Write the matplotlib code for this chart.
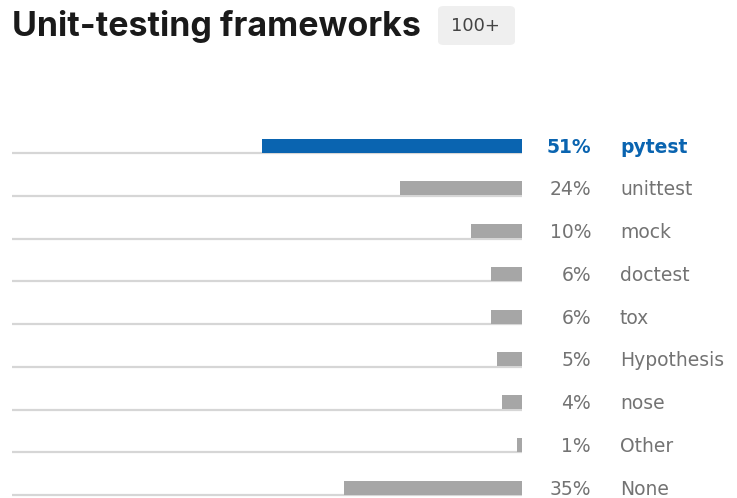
import matplotlib
matplotlib.use("Agg")
import matplotlib.pyplot as plt
from matplotlib.transforms import blended_transform_factory
from matplotlib.patches import FancyBboxPatch

categories = ["pytest", "unittest", "mock", "doctest", "tox", "Hypothesis", "nose", "Other", "None"]
values = [51, 24, 10, 6, 6, 5, 4, 1, 35]
title = "Unit-testing frameworks"
badge = "100+"

BLUE = "#0a64b0"
GRAY_BAR = "#a6a6a6"
LINE = "#d6d6d6"
TXT = "#737373"

W, H = 737, 498
fig = plt.figure(figsize=(W / 100, H / 100), dpi=100)
plt.rcParams['font.family'] = ['Inter', 'DejaVu Sans']
LBL = ['DejaVu Sans']

ax = fig.add_axes([12 / W, 0, 510 / W, 1])
ax.set_xlim(100, 0)
row_px0, row_step = 153, 42.75
ax.set_ylim((H - row_px0) / row_step, -row_px0 / row_step)
ax.axis("off")

n = len(categories)
ys = list(range(n))
bar_h = 14 / row_step
ax.hlines(ys, 100, 0, color=LINE, lw=1.6, zorder=1)
colors = [BLUE if i == 0 else GRAY_BAR for i in range(n)]
ax.barh([y - bar_h / 2 - 0.01 for y in ys], values, height=bar_h, color=colors, zorder=2)

tr = blended_transform_factory(fig.transFigure, ax.transData)
for i, (c, v) in enumerate(zip(categories, values)):
    col = BLUE if i == 0 else TXT
    wt = "bold" if i == 0 else "normal"
    ax.text(591 / W, i - 0.01, f"{v}%", transform=tr, ha="right", va="baseline",
            fontsize=13.5, color=col, fontweight=wt, clip_on=False, family=LBL)
    ax.text(620 / W, i - 0.01, c, transform=tr, ha="left", va="baseline",
            fontsize=13.5, color=col, fontweight=wt, clip_on=False, family=LBL)

fig.text(12 / W, 1 - 36 / H, title, fontsize=24.5, fontweight="bold", color="#1a1a1a",
         ha="left", va="baseline")
box = FancyBboxPatch((438 / W, 1 - 45 / H), 77 / W, 39 / H,
                     boxstyle="round,pad=0,rounding_size=0.008",
                     transform=fig.transFigure, facecolor="#efefef", edgecolor="none")
fig.patches.append(box)
fig.text(475 / W, 1 - 31 / H, badge, fontsize=13, color="#444444", ha="center", va="baseline",
         family=LBL)

fig.savefig("out.png", dpi=100)
